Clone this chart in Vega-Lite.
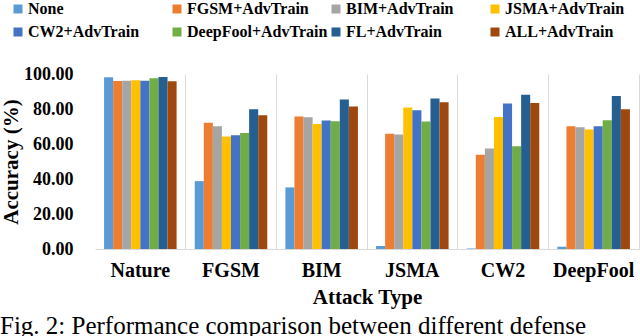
{
  "$schema": "https://vega.github.io/schema/vega-lite/v6.json",
  "autosize": {"type": "none"},
  "width": 544,
  "height": 175,
  "padding": {"left": 95, "top": 74, "right": 1, "bottom": 87},
  "background": "white",
  "config": {"view": {"stroke": null}},
  "title": {
    "text": "Fig. 2: Performance comparison between different defense",
    "orient": "bottom",
    "anchor": "start",
    "frame": "group",
    "dx": -95,
    "offset": 7,
    "baseline": "top",
    "font": "Liberation Serif",
    "fontSize": 25,
    "fontWeight": "normal",
    "color": "#000000"
  },
  "data": {
    "values": [
      {"attack": "Nature", "method": "None", "acc": 98.2},
      {"attack": "Nature", "method": "FGSM+AdvTrain", "acc": 96.0},
      {"attack": "Nature", "method": "BIM+AdvTrain", "acc": 96.2},
      {"attack": "Nature", "method": "JSMA+AdvTrain", "acc": 96.4},
      {"attack": "Nature", "method": "CW2+AdvTrain", "acc": 96.2},
      {"attack": "Nature", "method": "DeepFool+AdvTrain", "acc": 97.6},
      {"attack": "Nature", "method": "FL+AdvTrain", "acc": 98.3},
      {"attack": "Nature", "method": "ALL+AdvTrain", "acc": 95.9},
      {"attack": "FGSM", "method": "None", "acc": 38.8},
      {"attack": "FGSM", "method": "FGSM+AdvTrain", "acc": 72.1},
      {"attack": "FGSM", "method": "BIM+AdvTrain", "acc": 70.2},
      {"attack": "FGSM", "method": "JSMA+AdvTrain", "acc": 64.3},
      {"attack": "FGSM", "method": "CW2+AdvTrain", "acc": 65.0},
      {"attack": "FGSM", "method": "DeepFool+AdvTrain", "acc": 66.3},
      {"attack": "FGSM", "method": "FL+AdvTrain", "acc": 79.9},
      {"attack": "FGSM", "method": "ALL+AdvTrain", "acc": 76.5},
      {"attack": "BIM", "method": "None", "acc": 35.2},
      {"attack": "BIM", "method": "FGSM+AdvTrain", "acc": 75.7},
      {"attack": "BIM", "method": "BIM+AdvTrain", "acc": 75.3},
      {"attack": "BIM", "method": "JSMA+AdvTrain", "acc": 71.5},
      {"attack": "BIM", "method": "CW2+AdvTrain", "acc": 73.4},
      {"attack": "BIM", "method": "DeepFool+AdvTrain", "acc": 73.0},
      {"attack": "BIM", "method": "FL+AdvTrain", "acc": 85.5},
      {"attack": "BIM", "method": "ALL+AdvTrain", "acc": 81.5},
      {"attack": "JSMA", "method": "None", "acc": 1.7},
      {"attack": "JSMA", "method": "FGSM+AdvTrain", "acc": 65.8},
      {"attack": "JSMA", "method": "BIM+AdvTrain", "acc": 65.4},
      {"attack": "JSMA", "method": "JSMA+AdvTrain", "acc": 80.9},
      {"attack": "JSMA", "method": "CW2+AdvTrain", "acc": 79.3},
      {"attack": "JSMA", "method": "DeepFool+AdvTrain", "acc": 72.8},
      {"attack": "JSMA", "method": "FL+AdvTrain", "acc": 86.0},
      {"attack": "JSMA", "method": "ALL+AdvTrain", "acc": 83.9},
      {"attack": "CW2", "method": "None", "acc": 0.3},
      {"attack": "CW2", "method": "FGSM+AdvTrain", "acc": 53.9},
      {"attack": "CW2", "method": "BIM+AdvTrain", "acc": 57.4},
      {"attack": "CW2", "method": "JSMA+AdvTrain", "acc": 75.5},
      {"attack": "CW2", "method": "CW2+AdvTrain", "acc": 83.2},
      {"attack": "CW2", "method": "DeepFool+AdvTrain", "acc": 58.7},
      {"attack": "CW2", "method": "FL+AdvTrain", "acc": 88.1},
      {"attack": "CW2", "method": "ALL+AdvTrain", "acc": 83.4},
      {"attack": "DeepFool", "method": "None", "acc": 1.3},
      {"attack": "DeepFool", "method": "FGSM+AdvTrain", "acc": 70.2},
      {"attack": "DeepFool", "method": "BIM+AdvTrain", "acc": 69.6},
      {"attack": "DeepFool", "method": "JSMA+AdvTrain", "acc": 68.3},
      {"attack": "DeepFool", "method": "CW2+AdvTrain", "acc": 70.2},
      {"attack": "DeepFool", "method": "DeepFool+AdvTrain", "acc": 73.6},
      {"attack": "DeepFool", "method": "FL+AdvTrain", "acc": 87.4},
      {"attack": "DeepFool", "method": "ALL+AdvTrain", "acc": 79.9}
    ]
  },
  "mark": {"type": "bar"},
  "encoding": {
    "x": {
      "field": "attack",
      "type": "nominal",
      "sort": ["Nature", "FGSM", "BIM", "JSMA", "CW2", "DeepFool"],
      "scale": {"paddingInner": 0, "paddingOuter": 0},
      "axis": {
        "title": "Attack Type",
        "titleFont": "Liberation Serif",
        "titleFontSize": 21,
        "titleFontWeight": "bold",
        "titleColor": "#000000",
        "titlePadding": 6,
        "labelAngle": 0,
        "labelFont": "Liberation Serif",
        "labelFontSize": 20,
        "labelFontWeight": "bold",
        "labelColor": "#000000",
        "labelPadding": 11,
        "ticks": false,
        "domainColor": "#d9d9d9",
        "grid": true,
        "gridColor": "#d9d9d9",
        "bandPosition": 1
      }
    },
    "xOffset": {
      "field": "method",
      "type": "nominal",
      "sort": ["None", "FGSM+AdvTrain", "BIM+AdvTrain", "JSMA+AdvTrain", "CW2+AdvTrain", "DeepFool+AdvTrain", "FL+AdvTrain", "ALL+AdvTrain"],
      "scale": {"paddingInner": 0, "paddingOuter": 1.08}
    },
    "y": {
      "field": "acc",
      "type": "quantitative",
      "scale": {"domain": [0, 100]},
      "axis": {
        "title": "Accuracy (%)",
        "titleFont": "Liberation Serif",
        "titleFontSize": 21,
        "titleFontWeight": "bold",
        "titleColor": "#000000",
        "titleAngle": -90,
        "titleX": -84,
        "titleY": 87.5,
        "titleAlign": "center",
        "titleBaseline": "middle",
        "format": ".2f",
        "values": [0, 20, 40, 60, 80, 100],
        "labelFont": "Liberation Serif",
        "labelFontSize": 18,
        "labelFontWeight": "bold",
        "labelColor": "#000000",
        "labelPadding": 22,
        "ticks": false,
        "domain": false,
        "grid": false
      }
    },
    "color": {
      "field": "method",
      "type": "nominal",
      "sort": ["None", "FGSM+AdvTrain", "BIM+AdvTrain", "JSMA+AdvTrain", "CW2+AdvTrain", "DeepFool+AdvTrain", "FL+AdvTrain", "ALL+AdvTrain"],
      "scale": {
        "domain": ["None", "FGSM+AdvTrain", "BIM+AdvTrain", "JSMA+AdvTrain", "CW2+AdvTrain", "DeepFool+AdvTrain", "FL+AdvTrain", "ALL+AdvTrain"],
        "range": ["#5B9BD5", "#ED7D31", "#A5A5A5", "#FFC000", "#4472C4", "#70AD47", "#255E91", "#9E480E"]
      },
      "legend": {
        "title": null,
        "orient": "none",
        "legendX": -85,
        "legendY": -73,
        "direction": "horizontal",
        "columns": 4,
        "gridAlign": "all",
        "columnPadding": 0,
        "rowPadding": 7,
        "symbolType": "square",
        "symbolSize": 81,
        "symbolStrokeWidth": 0,
        "labelFont": "Liberation Serif",
        "labelFontSize": 16,
        "labelFontWeight": "bold",
        "labelColor": "#000000",
        "labelOffset": 2,
        "labelLimit": 200
      }
    }
  }
}
